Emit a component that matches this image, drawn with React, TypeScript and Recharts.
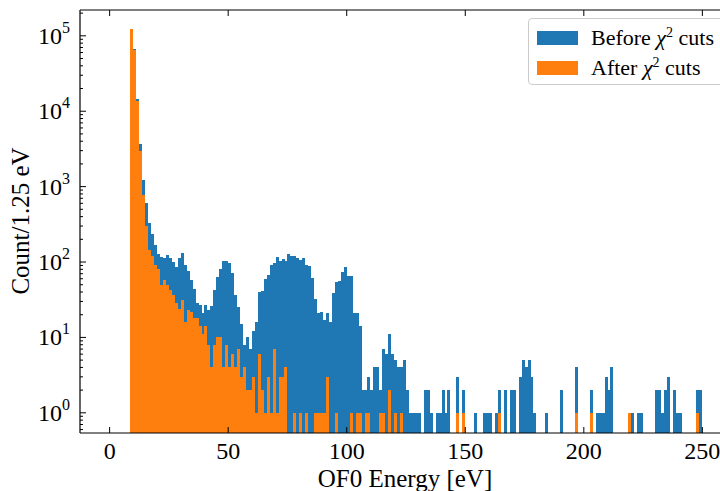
import { Bar, ComposedChart, Legend, XAxis, YAxis } from "recharts";

const binWidth = 1.25;

// counts per 1.25 eV bin, bins start at 0 eV
const beforeCounts = [
  0, 0, 0, 0, 0, 0, 0, 124000, 67300, 14600,
  3700, 1230, 610, 331, 237, 169, 128, 116, 113, 124,
  113, 99, 86, 113, 132, 90, 75, 58, 44, 29,
  27, 21, 27, 23, 26, 43, 64, 81, 103, 103,
  98, 72, 37, 25, 15, 8, 10, 7, 12, 16,
  40, 41, 60, 68, 90, 98, 117, 104, 110, 104,
  128, 122, 122, 113, 108, 113, 90, 88, 62, 32,
  21, 22, 17, 21, 16, 39, 55, 56, 74, 86,
  66, 66, 21, 21, 14, 2, 2, 3, 2, 4,
  4, 2, 7, 6, 11, 6, 5, 4, 4, 5,
  2, 1, 1, 1, 1, 0, 2, 2, 1, 0,
  1, 1, 2, 1, 2, 0, 0, 3, 0, 2,
  0, 0, 0, 1, 0, 0, 1, 1, 1, 0,
  1, 2, 0, 2, 0, 2, 2, 0, 3, 5,
  4, 5, 3, 1, 0, 0, 0, 1, 0, 0,
  0, 0, 2, 0, 0, 0, 0, 4, 0, 0,
  0, 0, 2, 0, 1, 1, 1, 3, 2, 4,
  0, 0, 0, 0, 0, 1, 1, 0, 1, 1,
  0, 0, 0, 0, 2, 2, 1, 2, 3, 0,
  2, 1, 1, 0, 0, 0, 0, 0, 2, 2,
];

const afterCounts = [
  0, 0, 0, 0, 0, 0, 0, 123000, 65200, 13700,
  3010, 785, 296, 145, 122, 90, 81, 50, 58, 50,
  42, 36, 29, 24, 31, 16, 23, 22, 18, 18,
  14, 11, 14, 8, 4, 8, 10, 10, 4, 8,
  4, 6, 4, 7, 3, 4, 2, 2, 3, 1,
  6, 2, 1, 3, 1, 7, 1, 3, 3, 4,
  0, 0, 1, 0, 1, 0, 1, 0, 0, 1,
  1, 1, 1, 3, 0, 0, 1, 0, 0, 0,
  0, 1, 0, 1, 1, 0, 1, 1, 0, 0,
  0, 1, 1, 0, 2, 0, 1, 0, 1, 0,
  0, 0, 0, 0, 0, 0, 0, 0, 0, 0,
  0, 0, 0, 0, 0, 0, 0, 1, 0, 1,
  0, 0, 0, 0, 0, 0, 0, 0, 0, 0,
  0, 1, 0, 0, 0, 0, 0, 0, 0, 0,
  0, 0, 0, 0, 0, 0, 0, 0, 0, 0,
  0, 0, 0, 0, 0, 0, 0, 1, 0, 0,
  0, 0, 1, 0, 0, 0, 0, 0, 0, 0,
  0, 0, 0, 0, 0, 1, 0, 0, 0, 0,
  0, 0, 0, 0, 0, 0, 0, 0, 0, 0,
  0, 0, 0, 0, 0, 0, 0, 0, 1, 0,
];

const xTicks = [0, 50, 100, 150, 200, 250];
const yMajor = [1, 10, 100, 1000, 10000, 100000];
const yMinor = [
  0.6, 0.7, 0.8, 0.9,
  2, 3, 4, 5, 6, 7, 8, 9,
  20, 30, 40, 50, 60, 70, 80, 90,
  200, 300, 400, 500, 600, 700, 800, 900,
  2000, 3000, 4000, 5000, 6000, 7000, 8000, 9000,
  20000, 30000, 40000, 50000, 60000, 70000, 80000, 90000,
  200000,
];

const BLUE = "#1f77b4";
const ORANGE = "#ff7f0e";
const FONT = "'Liberation Serif', 'DejaVu Serif', serif";

const data = beforeCounts.map((count, i) => ({
  energy: (i + 0.5) * binWidth,
  before: count > 0 ? count : null,
  after: afterCounts[i] > 0 ? afterCounts[i] : null,
}));

function BottomTick({ x, y, payload }: any) {
  return (
    <g>
      <line x1={x} x2={x} y1={y} y2={y - 6} stroke="#000" strokeWidth={1} />
      <text x={x} y={y + 26} textAnchor="middle" fontSize={24} fontFamily={FONT} fill="#000">
        {payload.value}
      </text>
    </g>
  );
}

function TopTick({ x, y }: any) {
  return <line x1={x} x2={x} y1={y} y2={y + 6} stroke="#000" strokeWidth={1} />;
}

function LeftTick({ x, y, payload }: any) {
  const v = payload.value;
  const exp = Math.round(Math.log10(v));
  const major = Math.abs(Math.log10(v) - exp) < 1e-6;
  return (
    <g>
      <line x1={x} x2={x + (major ? 6 : 3)} y1={y} y2={y} stroke="#000" strokeWidth={1} />
      {major && (
        <text x={x - 10} y={y + 8} textAnchor="end" fontSize={24} fontFamily={FONT} fill="#000">
          10
          <tspan dy={-11} fontSize={16}>{exp}</tspan>
        </text>
      )}
    </g>
  );
}

function LegendBox() {
  const items = [
    { label: "Before", color: BLUE },
    { label: "After", color: ORANGE },
  ];
  return (
    <div
      style={{
        border: "1px solid #cccccc",
        borderRadius: 4,
        background: "rgba(255,255,255,0.8)",
        padding: "4px 30px 1px 8px",
        fontFamily: FONT,
        fontSize: 22,
        color: "#000",
        whiteSpace: "nowrap",
      }}
    >
      {items.map((item) => (
        <div key={item.label} style={{ display: "flex", alignItems: "center", height: 30 }}>
          <span style={{ display: "inline-block", width: 41, height: 14, background: item.color, marginRight: 13 }} />
          <span>
            {item.label} <i>χ</i>
            <sup style={{ fontSize: 14 }}>2</sup> cuts
          </span>
        </div>
      ))}
    </div>
  );
}

export default function App() {
  return (
    <div style={{ position: "absolute", left: 0, top: 0, width: 720, height: 491, overflow: "hidden", background: "#fff" }}>
      <ComposedChart
        width={745}
        height={491}
        data={data}
        margin={{ top: 0, right: 13, bottom: 0, left: 0 }}
        barCategoryGap={0}
        barGap={0}
      >
        <XAxis
          xAxisId="bottom"
          dataKey="energy"
          type="number"
          domain={[-12.5, 262.5]}
          ticks={xTicks}
          interval={0}
          height={58}
          tickSize={0}
          tickMargin={0}
          tickLine={false}
          tick={<BottomTick />}
          axisLine={{ stroke: "#000", strokeWidth: 1.2 }}
          allowDataOverflow
        />
        <XAxis
          xAxisId="top"
          orientation="top"
          dataKey="energy"
          type="number"
          domain={[-12.5, 262.5]}
          ticks={xTicks}
          interval={0}
          height={10}
          tickSize={0}
          tickMargin={0}
          tickLine={false}
          tick={<TopTick />}
          axisLine={{ stroke: "#000", strokeWidth: 1.2 }}
          allowDataOverflow
        />
        <YAxis
          scale="log"
          type="number"
          domain={[0.54, 220000]}
          ticks={[...yMinor, ...yMajor]}
          interval={0}
          width={80}
          tickSize={0}
          tickMargin={0}
          tickLine={false}
          tick={<LeftTick />}
          axisLine={{ stroke: "#000", strokeWidth: 1.2 }}
          allowDataOverflow
        />
        <Bar xAxisId="bottom" dataKey="before" fill={BLUE} isAnimationActive={false} shapeRendering="crispEdges" />
        <Bar xAxisId="top" dataKey="after" fill={ORANGE} isAnimationActive={false} shapeRendering="crispEdges" />
        <Legend
          layout="horizontal"
          verticalAlign="middle"
          align="center"
          content={<LegendBox />}
          wrapperStyle={{ top: 18, left: 528, width: "auto" }}
        />
        <text x={405} y={487} textAnchor="middle" fontSize={25} fontFamily={FONT} fill="#000">
          OF0 Energy [eV]
        </text>
        <text
          x={0}
          y={0}
          transform="translate(29, 221) rotate(-90)"
          textAnchor="middle"
          fontSize={25}
          fontFamily={FONT}
          fill="#000"
        >
          Count/1.25 eV
        </text>
      </ComposedChart>
    </div>
  );
}
